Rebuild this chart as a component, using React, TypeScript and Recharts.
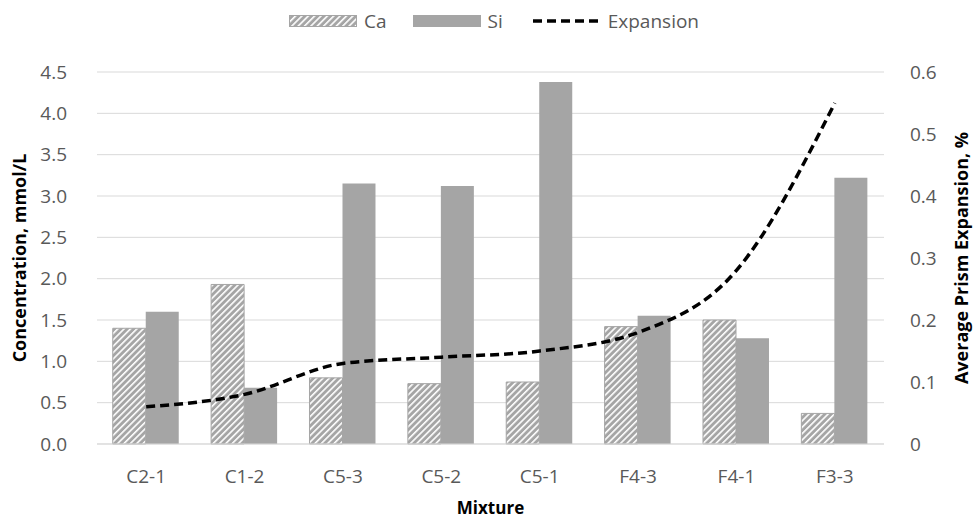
import React from "react";
import {
  ComposedChart,
  Bar,
  Line,
  XAxis,
  YAxis,
  CartesianGrid,
  Legend,
} from "recharts";

const mixtures = ["C2-1", "C1-2", "C5-3", "C5-2", "C5-1", "F4-3", "F4-1", "F3-3"];
const caValues = [1.4, 1.93, 0.8, 0.73, 0.75, 1.42, 1.5, 0.37];
const siValues = [1.6, 0.68, 3.15, 3.12, 4.38, 1.55, 1.28, 3.22];
const expansionValues = [0.06, 0.08, 0.13, 0.14, 0.15, 0.18, 0.28, 0.55];

const leftTicks = [0, 0.5, 1, 1.5, 2, 2.5, 3, 3.5, 4, 4.5];
const rightTicks = [0, 0.1, 0.2, 0.3, 0.4, 0.5, 0.6];

const data = mixtures.map((name, i) => ({
  name,
  ca: caValues[i],
  si: siValues[i],
  expansion: expansionValues[i],
}));

const FONT = "'Open Sans', sans-serif";
const BAR_GRAY = "#a5a5a5";
const TEXT = "#595959";

const LegendContent = () => (
  <div
    style={{
      display: "flex",
      justifyContent: "center",
      alignItems: "center",
      fontFamily: FONT,
      fontSize: 19,
      color: TEXT,
      paddingLeft: 12,
    }}
  >
    <svg width={68} height={12}>
      <rect x={0.5} y={0.5} width={67} height={11} fill="url(#caHatch)" stroke={BAR_GRAY} />
    </svg>
    <span style={{ marginLeft: 7, marginRight: 26 }}>Ca</span>
    <svg width={68} height={12}>
      <rect x={0} y={0} width={68} height={12} fill={BAR_GRAY} />
    </svg>
    <span style={{ marginLeft: 7, marginRight: 30 }}>Si</span>
    <svg width={68} height={12}>
      <line x1={0} y1={6} x2={68} y2={6} stroke="#000" strokeWidth={3.5} strokeDasharray="9 5" />
    </svg>
    <span style={{ marginLeft: 7 }}>Expansion</span>
  </div>
);

const App = () => {
  return (
    <div style={{ position: "absolute", left: 0, top: 0, background: "#fff" }}>
      <ComposedChart
        width={976}
        height={526}
        data={data}
        margin={{ top: 72, right: 0, bottom: 0, left: 0 }}
        barGap={0}
        barCategoryGap="16%"
      >
        <defs>
          <pattern id="caHatch" width={4.5} height={4.5} patternUnits="userSpaceOnUse" patternTransform="rotate(45)">
            <rect width={4.5} height={4.5} fill={BAR_GRAY} />
            <line x1={0} y1={0} x2={0} y2={4.5} stroke="#fff" strokeWidth={3.2} />
          </pattern>
        </defs>
        <CartesianGrid yAxisId="left" vertical={false} stroke="#d9d9d9" />
        <XAxis
          dataKey="name"
          height={82}
          tickLine={false}
          axisLine={{ stroke: "#d9d9d9" }}
          tick={{ fill: TEXT, fontSize: 19, fontFamily: FONT }}
          tickMargin={20}
          label={{
            value: "Mixture",
            position: "insideBottom",
            offset: 12,
            fill: "#000",
            fontSize: 17,
            fontWeight: "bold",
            fontFamily: FONT,
          }}
        />
        <YAxis
          yAxisId="left"
          width={97}
          domain={[0, 4.5]}
          ticks={leftTicks}
          interval={0}
          tickFormatter={(v: number) => v.toFixed(1)}
          tickLine={false}
          axisLine={false}
          tickMargin={24}
          tick={{ fill: TEXT, fontSize: 19, fontFamily: FONT }}
          label={{
            value: "Concentration, mmol/L",
            angle: -90,
            position: "insideLeft",
            offset: 20,
            style: { textAnchor: "middle" },
            fill: "#000",
            fontSize: 18,
            fontWeight: "bold",
            fontFamily: FONT,
          }}
        />
        <YAxis
          yAxisId="right"
          orientation="right"
          width={92}
          domain={[0, 0.6]}
          ticks={rightTicks}
          interval={0}
          tickFormatter={(v: number) => (v === 0 ? "0" : v.toFixed(1))}
          tickLine={false}
          axisLine={false}
          tickMargin={20}
          tick={{ fill: TEXT, fontSize: 19, fontFamily: FONT }}
          label={{
            value: "Average Prism Expansion, %",
            angle: -90,
            position: "insideRight",
            offset: 14,
            style: { textAnchor: "middle" },
            fill: "#000",
            fontSize: 18,
            fontWeight: "bold",
            fontFamily: FONT,
          }}
        />
        <Legend
          verticalAlign="middle"
          align="center"
          content={LegendContent}
          wrapperStyle={{ top: 8, left: 0, width: 976 }}
        />
        <Bar yAxisId="left" dataKey="ca" name="Ca" fill="url(#caHatch)" stroke={BAR_GRAY} strokeWidth={1} isAnimationActive={false} />
        <Bar yAxisId="left" dataKey="si" name="Si" fill={BAR_GRAY} isAnimationActive={false} />
        <Line
          yAxisId="right"
          type="monotone"
          dataKey="expansion"
          name="Expansion"
          stroke="#000"
          strokeWidth={3.5}
          strokeDasharray="9 5"
          dot={false}
          activeDot={false}
          isAnimationActive={false}
        />
      </ComposedChart>
    </div>
  );
};

export default App;
